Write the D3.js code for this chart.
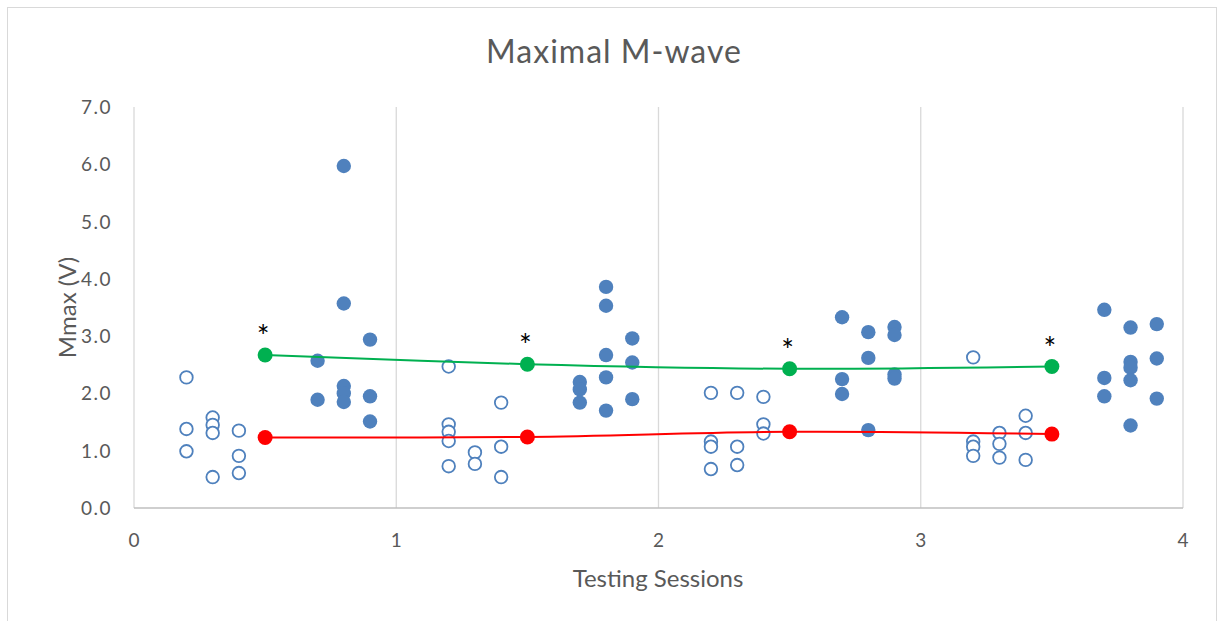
<!DOCTYPE html>
<html>
<head>
<meta charset="utf-8">
<script src="https://cdn.jsdelivr.net/npm/d3@7"></script>
<style>
  body { margin: 0; background: #fff; }
  text { font-family: Lato, "Open Sans", sans-serif; fill: #595959; }
</style>
</head>
<body>
<script>
// pre-session individual values (open circles)
var preX = [0.2, 0.2, 0.2, 0.3, 0.3, 0.3, 0.3, 0.4, 0.4, 0.4,
            1.2, 1.2, 1.2, 1.2, 1.2, 1.3, 1.3, 1.4, 1.4, 1.4,
            2.2, 2.2, 2.2, 2.2, 2.3, 2.3, 2.3, 2.4, 2.4, 2.4,
            3.2, 3.2, 3.2, 3.2, 3.3, 3.3, 3.3, 3.4, 3.4, 3.4];
var preY = [2.28, 1.38, 0.99, 1.58, 1.45, 1.31, 0.54, 1.35, 0.91, 0.61,
            2.47, 1.46, 1.33, 1.17, 0.73, 0.97, 0.77, 1.84, 1.07, 0.54,
            2.01, 1.16, 1.07, 0.68, 2.01, 1.07, 0.75, 1.94, 1.46, 1.30,
            2.63, 1.16, 1.07, 0.91, 1.31, 1.12, 0.88, 1.61, 1.31, 0.84];

// post-session individual values (filled circles)
var postX = [0.7, 0.7, 0.8, 0.8, 0.8, 0.8, 0.8, 0.9, 0.9, 0.9,
             1.7, 1.7, 1.7, 1.8, 1.8, 1.8, 1.8, 1.8, 1.9, 1.9, 1.9,
             2.7, 2.7, 2.7, 2.8, 2.8, 2.8, 2.9, 2.9, 2.9, 2.9,
             3.7, 3.7, 3.7, 3.8, 3.8, 3.8, 3.8, 3.8, 3.9, 3.9, 3.9];
var postY = [2.57, 1.89, 5.97, 3.57, 2.13, 2.00, 1.85, 2.94, 1.95, 1.51,
             2.20, 2.07, 1.84, 3.86, 3.53, 2.67, 2.28, 1.70, 2.96, 2.54, 1.90,
             3.33, 2.25, 1.99, 3.07, 2.62, 1.36, 3.16, 3.02, 2.33, 2.26,
             3.46, 2.27, 1.95, 3.15, 2.55, 2.45, 2.23, 1.44, 3.21, 2.61, 1.91];

// group means
var meanX = [0.5, 1.5, 2.5, 3.5];
var preMean = [1.23, 1.24, 1.33, 1.29];
var postMean = [2.67, 2.51, 2.43, 2.47];
var sigMarks = ['*', '*', '*', '*'];

var xTicks = [0, 1, 2, 3, 4];
var yTicks = [0, 1, 2, 3, 4, 5, 6, 7];

var width = 1218, height = 621;
var blue = '#4F81BD';

var svg = d3.select('body').append('svg')
    .attr('width', width)
    .attr('height', height);

svg.append('rect')
    .attr('x', 7.5).attr('y', 7.5)
    .attr('width', 1209).attr('height', 630)
    .attr('fill', '#fff')
    .attr('stroke', '#D9D9D9');

var x = d3.scaleLinear().domain([0, 4]).range([134, 1183]);
var y = d3.scaleLinear().domain([0, 7]).range([508, 107]);

// vertical gridlines
svg.append('g').selectAll('line')
    .data(xTicks)
    .enter().append('line')
    .attr('x1', function(d) { return x(d); })
    .attr('x2', function(d) { return x(d); })
    .attr('y1', y(7)).attr('y2', y(0))
    .attr('stroke', '#D9D9D9')
    .attr('stroke-width', 1.3);

// x axis line
svg.append('line')
    .attr('x1', x(0)).attr('x2', x(4))
    .attr('y1', y(0)).attr('y2', y(0))
    .attr('stroke', '#BFBFBF')
    .attr('stroke-width', 1.5);

// tick labels
svg.append('g').selectAll('text')
    .data(yTicks)
    .enter().append('text')
    .attr('x', 112)
    .attr('y', function(d) { return y(d) + 7; })
    .attr('text-anchor', 'end')
    .style('font-size', '19px')
    .style('letter-spacing', '1.5px')
    .text(function(d) { return d3.format('.1f')(d); });

svg.append('g').selectAll('text')
    .data(xTicks)
    .enter().append('text')
    .attr('x', function(d) { return x(d); })
    .attr('y', 547)
    .attr('text-anchor', 'middle')
    .style('font-size', '19px')
    .text(function(d) { return d; });

// titles
svg.append('text')
    .attr('x', 614).attr('y', 63)
    .attr('text-anchor', 'middle')
    .style('font-size', '32px')
    .style('letter-spacing', '1px')
    .text('Maximal M-wave');

svg.append('text')
    .attr('x', 658).attr('y', 587)
    .attr('text-anchor', 'middle')
    .style('font-size', '24px')
    .text('Testing Sessions');

svg.append('text')
    .attr('transform', 'translate(76,' + y(3.5) + ') rotate(-90)')
    .attr('text-anchor', 'middle')
    .style('font-size', '24px')
    .text('Mmax (V)');

// individual points
svg.append('g').selectAll('circle')
    .data(preY)
    .enter().append('circle')
    .attr('cx', function(d, i) { return x(preX[i]); })
    .attr('cy', function(d) { return y(d); })
    .attr('r', 6.3)
    .attr('fill', '#fff')
    .attr('stroke', blue)
    .attr('stroke-width', 1.8);

svg.append('g').selectAll('circle')
    .data(postY)
    .enter().append('circle')
    .attr('cx', function(d, i) { return x(postX[i]); })
    .attr('cy', function(d) { return y(d); })
    .attr('r', 7.2)
    .attr('fill', blue);

// mean lines
var line = d3.line()
    .x(function(d, i) { return x(meanX[i]); })
    .y(function(d) { return y(d); })
    .curve(d3.curveCatmullRom);

[[postMean, '#00B050'], [preMean, '#FF0000']].forEach(function(s) {
    svg.append('path')
        .datum(s[0])
        .attr('d', line)
        .attr('fill', 'none')
        .attr('stroke', s[1])
        .attr('stroke-width', 2);

    svg.append('g').selectAll('circle')
        .data(s[0])
        .enter().append('circle')
        .attr('cx', function(d, i) { return x(meanX[i]); })
        .attr('cy', function(d) { return y(d); })
        .attr('r', 7.5)
        .attr('fill', s[1]);
});

// significance markers
svg.append('g').selectAll('text')
    .data(sigMarks)
    .enter().append('text')
    .attr('x', function(d, i) { return x(meanX[i]) - 2; })
    .attr('y', function(d, i) { return y(postMean[i]) - 8; })
    .attr('text-anchor', 'middle')
    .style('font-size', '30px')
    .style('fill', '#000')
    .text(function(d) { return d; });
</script>
</body>
</html>
